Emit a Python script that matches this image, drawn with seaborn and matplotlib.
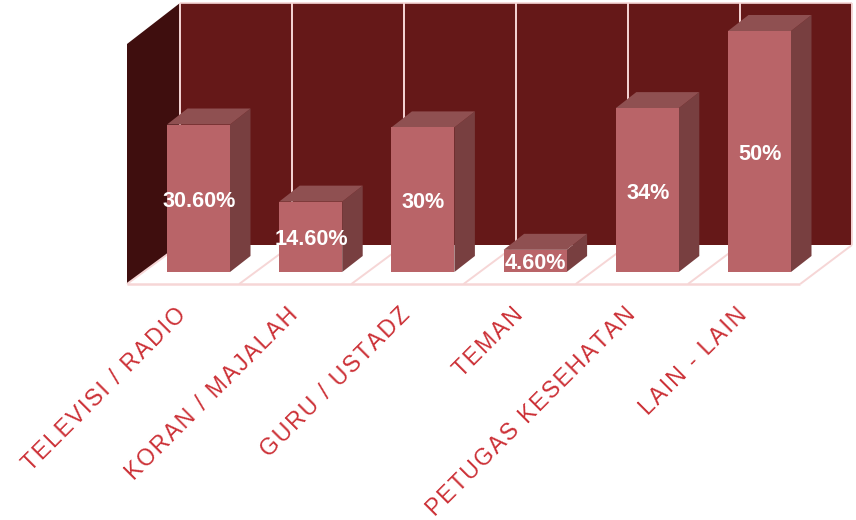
import matplotlib
matplotlib.use('Agg')
import matplotlib.pyplot as plt
import matplotlib.transforms as mtrans
from matplotlib.patches import Polygon
import pandas as pd
import seaborn as sns

# Values
categories = ['TELEVISI / RADIO', 'KORAN / MAJALAH', 'GURU / USTADZ', 'TEMAN',
              'PETUGAS KESEHATAN', 'LAIN - LAIN']
values = [30.6, 14.6, 30, 4.6, 34, 50]
value_labels = ['30.60%', '14.60%', '30%', '4.60%', '34%', '50%']

df = pd.DataFrame({'source': categories, 'percent': values})

sns.set_theme(style='white')
plt.rcParams['font.family'] = ['Liberation Sans', 'DejaVu Sans']

W, H = 856, 520
fig = plt.figure(figsize=(W / 100, H / 100), dpi=100)
fig.patch.set_facecolor('white')

# axes frame is the front floor edge / top of the back wall
ax = fig.add_axes([127 / W, (H - 284) / H, 725 / W, 281 / H])
ax.patch.set_visible(False)
px_per_cat = 112.2
px_per_unit = 4.82

# transform for the fake 3D box, in image pixels
px = mtrans.Affine2D().scale(1 / W, -1 / H).translate(0, 1) + fig.transFigure


def box(points, color, z=0.0, lw=0.0):
    ax.add_patch(Polygon(points, closed=True, facecolor=color, edgecolor=color, lw=lw,
                         transform=px, clip_on=False, zorder=z))


def line(xs, ys, z=0.5, lw=1.4):
    ax.plot(xs, ys, color='#f6d6d6', lw=lw, transform=px, clip_on=False, zorder=z,
            solid_capstyle='butt')


box([(180, 3), (852, 3), (852, 245), (180, 245)], '#651818')
box([(127, 44), (180, 3), (180, 245), (127, 284)], '#3f0e0e')
box([(127, 284), (180, 245), (852, 245), (800, 284)], 'white', z=0.2)

line([180, 852], [3, 3], lw=1.2)
for i in range(7):
    xb = 180 + 112 * i
    xf = 127 + 112.2 * i
    line([xb, xb], [3, 245])
    line([xf, xb], [284, 245])
line([127, 800], [284, 284], lw=1.8)

sns.barplot(data=df, x='source', y='percent', order=categories, color='#b96468',
            saturation=1, width=63 / px_per_cat, linewidth=0, ax=ax, zorder=3)
ax.set_xlim((127 - 198.5) / px_per_cat, (852 - 198.5) / px_per_cat)
ax.set_ylim(-12 / px_per_unit, 269 / px_per_unit)

# side and top faces taken from the bars seaborn drew
dx = 20.5 / px_per_cat
dy = 16 / px_per_unit
for bar in ax.containers[0]:
    x0, x1 = bar.get_x(), bar.get_x() + bar.get_width()
    top = bar.get_height()
    ax.add_patch(Polygon([(x1, 0), (x1 + dx, dy), (x1 + dx, top + dy), (x1, top)],
                         facecolor='#783f40', edgecolor='none', zorder=2.6))
    ax.add_patch(Polygon([(x0, top), (x0 + dx, top + dy), (x1 + dx, top + dy), (x1, top)],
                         facecolor='#8f5051', edgecolor='none', zorder=2.6))

labels = ax.bar_label(ax.containers[0], labels=value_labels, label_type='center', color='white',
                      fontsize=15.6, fontweight='bold', zorder=5)
for lab in labels:
    lab.set_position((0.5, -2.2))

ax.set_xlabel('')
ax.set_ylabel('')
ax.set_yticks([])
ax.tick_params(axis='x', length=0, pad=0)
ax.set_xticks(range(len(categories)))
# the original labels are letter-spaced, hair spaces give the same look
ax.set_xticklabels(['\u200a'.join(c) for c in categories], rotation=45, ha='right', va='top',
                   rotation_mode='anchor', color='#cc3036', fontsize=16.6)
shift = mtrans.ScaledTranslation(-24 / 100, -19 / 100, fig.dpi_scale_trans)
for lab in ax.get_xticklabels():
    lab.set_transform(lab.get_transform() + shift)
sns.despine(ax=ax, left=True, bottom=True)

fig.savefig('out.png', dpi=100)
